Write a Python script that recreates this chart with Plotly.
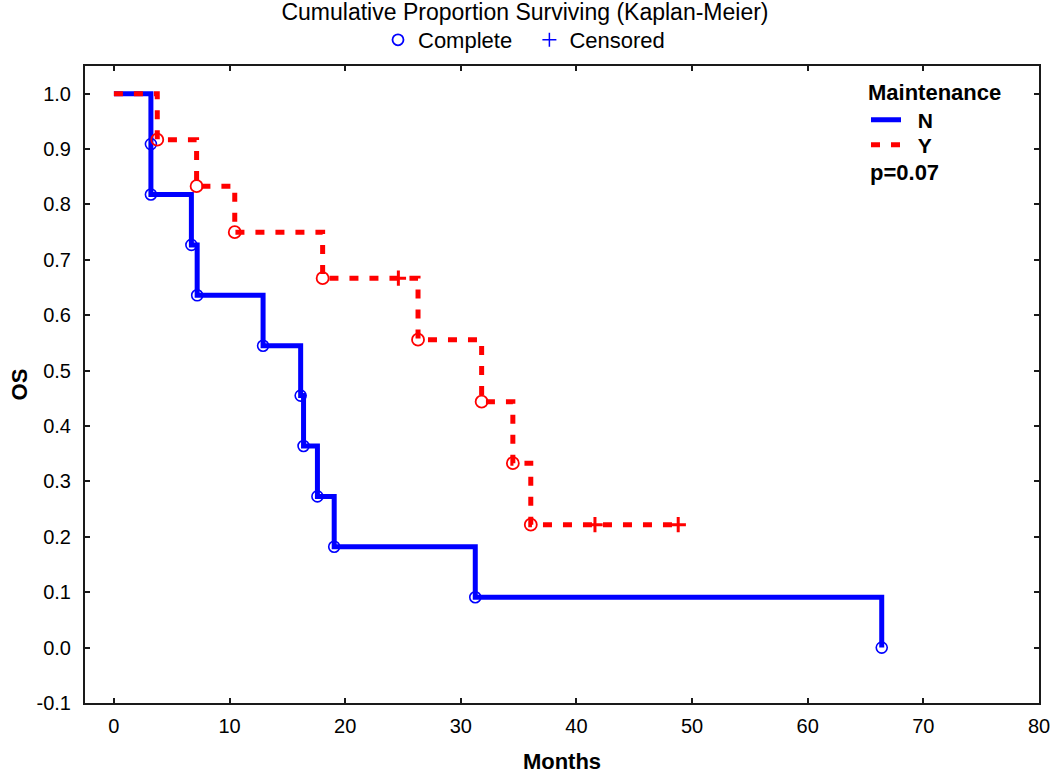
import plotly.graph_objects as go

# ---- data ----
n_times = [0, 3.2, 3.2, 6.7, 7.2, 12.9, 16.15, 16.4, 17.6, 19.05, 31.25, 66.4]
n_surv = [1.0, 0.909, 0.818, 0.727, 0.636, 0.545, 0.455, 0.364, 0.273, 0.182, 0.091, 0.0]

y_times = [0, 3.75, 7.15, 10.45, 18.05, 26.3, 31.8, 34.5, 36.05, 48.8]
y_surv = [1.0, 0.917, 0.833, 0.750, 0.667, 0.556, 0.444, 0.333, 0.222, 0.222]

y_cens_times = [24.6, 41.6, 48.8]
y_cens_surv = [0.667, 0.222, 0.222]

x_ticks = [0, 10, 20, 30, 40, 50, 60, 70, 80]
y_ticks = [-0.1, 0.0, 0.1, 0.2, 0.3, 0.4, 0.5, 0.6, 0.7, 0.8, 0.9, 1.0]

BLUE = "#0000ff"
RED = "#ff0000"
FONT = "Liberation Sans, Arial, sans-serif"

fig = go.Figure()

# N curve (solid blue)
fig.add_trace(go.Scatter(
    x=n_times, y=n_surv, mode="lines", line=dict(color=BLUE, width=5, shape="hv"),
    name="&nbsp;&nbsp;<b>N</b>", legend="legend2", hoverinfo="skip"))
fig.add_trace(go.Scatter(
    x=n_times[1:], y=n_surv[1:], mode="markers",
    marker=dict(symbol="circle-open", size=11, color=BLUE, line=dict(width=1.6, color=BLUE)),
    showlegend=False, hoverinfo="skip"))

# Y curve (dashed red)
fig.add_trace(go.Scatter(
    x=y_times, y=y_surv, mode="lines", line=dict(color=RED, width=5, shape="hv", dash="9px,11px"),
    name="&nbsp;&nbsp;<b>Y</b>", legend="legend3", hoverinfo="skip"))
fig.add_trace(go.Scatter(
    x=y_times[1:-1], y=y_surv[1:-1], mode="markers",
    marker=dict(symbol="circle-open", size=12, color=RED, line=dict(width=1.8, color=RED)),
    showlegend=False, hoverinfo="skip"))
fig.add_trace(go.Scatter(
    x=y_cens_times, y=y_cens_surv, mode="markers",
    marker=dict(symbol="cross-thin", size=11, color=RED, line=dict(width=3, color=RED)),
    showlegend=False, hoverinfo="skip"))

# Top legend entries
fig.add_trace(go.Scatter(
    x=[None], y=[None], mode="markers", name="Complete&nbsp;&nbsp;",
    marker=dict(symbol="circle-open", size=11, color=BLUE, line=dict(width=1.8, color=BLUE)),
    legend="legend"))
fig.add_trace(go.Scatter(
    x=[None], y=[None], mode="markers", name="Censored",
    marker=dict(symbol="cross-thin", size=10, color=BLUE, line=dict(width=1.5, color=BLUE)),
    legend="legend"))

axis_common = dict(
    showline=True, linecolor="#1a1a1a", linewidth=2, mirror="ticks",
    ticks="inside", ticklen=5, tickwidth=1.5, tickcolor="#1a1a1a",
    showgrid=False, zeroline=False, automargin=False, ticklabeloverflow="allow",
    tickfont=dict(family=FONT, size=20, color="#000"),
)

PLOT_L, PLOT_TOP, PLOT_W, PLOT_H = 85, 66, 954, 637

fig.update_layout(
    width=1050, height=774,
    margin=dict(l=85, r=11, t=66, b=71, autoexpand=False),
    paper_bgcolor="white", plot_bgcolor="white",
    font=dict(family=FONT, color="#000"),
    title=dict(text="Cumulative Proportion Surviving (Kaplan-Meier)", x=0.5, xanchor="center",
               y=1 - 12 / 774, yanchor="middle", font=dict(size=23, family=FONT, color="#000")),
    xaxis=dict(range=[-2.5, 80], tickvals=x_ticks, ticktext=[str(v) for v in x_ticks],
               ticklabelstandoff=4,
               title=dict(text="<b>Months</b>", font=dict(size=22, family=FONT), standoff=28),
               **axis_common),
    yaxis=dict(range=[-0.1, 1.05], tickvals=y_ticks, ticktext=[f"{v:.1f}" for v in y_ticks],
               ticklabelstandoff=8,
               title=dict(text="<b>OS</b>", font=dict(size=22, family=FONT), standoff=3),
               **axis_common),
    legend=dict(orientation="h", x=0.5 - 38 / PLOT_W, xanchor="center",
                y=1 + (PLOT_TOP - 40) / PLOT_H, yanchor="middle",
                font=dict(size=22, family=FONT), bgcolor="rgba(0,0,0,0)", itemwidth=30),
    legend2=dict(orientation="v", x=(866 - PLOT_L) / PLOT_W, xanchor="left",
                 y=1 - (71 - PLOT_TOP) / PLOT_H, yanchor="top",
                 title=dict(text="<b>Maintenance</b>", font=dict(size=22, family=FONT)),
                 font=dict(size=21, family=FONT), bgcolor="rgba(0,0,0,0)"),
    legend3=dict(orientation="v", x=(866 - PLOT_L) / PLOT_W, xanchor="left",
                 y=1 - (145 - PLOT_TOP) / PLOT_H, yanchor="middle",
                 font=dict(size=21, family=FONT), bgcolor="rgba(0,0,0,0)"),
    annotations=[dict(text="<b>p=0.07</b>", x=(868 - PLOT_L) / PLOT_W, xref="paper", xanchor="left",
                      y=1 - (172 - PLOT_TOP) / PLOT_H, yref="paper", yanchor="middle",
                      showarrow=False, font=dict(size=22, family=FONT))],
    showlegend=True,
)

fig.write_html("out.html", config={"displayModeBar": False},
               post_script="document.body.style.margin='0px';")
